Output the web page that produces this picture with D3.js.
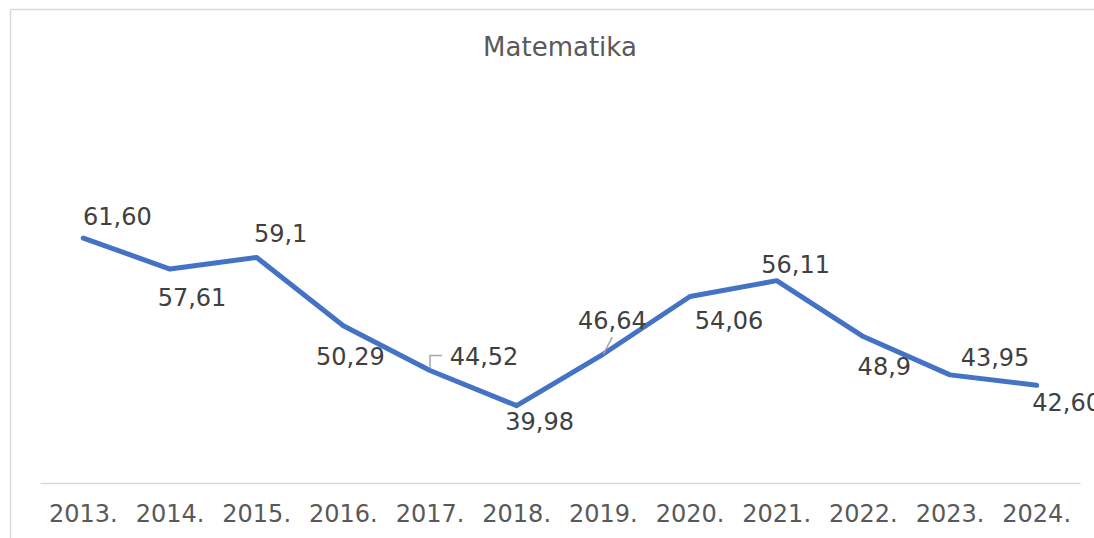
<!DOCTYPE html>
<html>
<head>
<meta charset="utf-8">
<script src="https://cdn.jsdelivr.net/npm/d3@7"></script>
<style>
  body { margin: 0; background: #fff; }
  text { font-family: "DejaVu Sans", Verdana, sans-serif; }
</style>
</head>
<body>
<svg id="chart"></svg>
<script>
// data
const years = ["2013.", "2014.", "2015.", "2016.", "2017.", "2018.", "2019.", "2020.", "2021.", "2022.", "2023.", "2024."];
const scores = [61.60, 57.61, 59.1, 50.29, 44.52, 39.98, 46.64, 54.06, 56.11, 48.9, 43.95, 42.60];
const scoreLabels = ["61,60", "57,61", "59,1", "50,29", "44,52", "39,98", "46,64", "54,06", "56,11", "48,9", "43,95", "42,60"];
const yDomain = [30, 70];

// label placement (offsets from point, like excel's manual label positions)
const labelOffsets = [[34, -22], [22, 28], [24, -24], [7, 31], [54, -14], [23, 16], [9, -34], [39, 24], [19, -16], [21, 30], [45, -18], [30, 17]];

const width = 1094, height = 538;
const margin = { top: 173, bottom: 55, left: 40, right: 14 };
const labelSize = 24;

const svg = d3.select("#chart").attr("width", width).attr("height", height);

// chart frame
svg.append("path")
  .attr("d", `M10.5,${height} V9.5 H${width}`)
  .attr("fill", "none")
  .attr("stroke", "#d9d9d9")
  .attr("stroke-width", 1.5);

const x = d3.scaleBand().domain(years).range([margin.left, width - margin.right]);
const y = d3.scaleLinear().domain(yDomain).range([height - margin.bottom, margin.top]);
const cx = (d) => x(d) + x.bandwidth() / 2;

// title
svg.append("text")
  .attr("x", 560)
  .attr("y", 56)
  .attr("text-anchor", "middle")
  .attr("font-size", 26)
  .attr("fill", "#595959")
  .text("Matematika");

// x axis
const xAxis = svg.append("g")
  .attr("transform", `translate(0, ${y(yDomain[0])})`)
  .call(d3.axisBottom(x).tickSize(0).tickPadding(22));
xAxis.select(".domain").attr("stroke", "#d9d9d9").attr("stroke-width", 1.5);
xAxis.selectAll(".tick text")
  .attr("font-family", "DejaVu Sans, Verdana, sans-serif")
  .attr("font-size", labelSize)
  .attr("fill", "#595959");

// line
const pts = years.map((d, i) => [cx(d), y(scores[i])]);
svg.append("path")
  .datum(pts)
  .attr("d", d3.line())
  .attr("fill", "none")
  .attr("stroke", "#4472C4")
  .attr("stroke-width", 5)
  .attr("stroke-linejoin", "round")
  .attr("stroke-linecap", "round");

// leader lines
const leader = d3.line();
const p17 = pts[4], p19 = pts[6];
svg.append("path")
  .attr("d", leader([[p17[0], p17[1] - 2], [p17[0], p17[1] - 15], [p17[0] + 12, p17[1] - 15]]))
  .attr("fill", "none").attr("stroke", "#a6a6a6").attr("stroke-width", 1.5);
svg.append("path")
  .attr("d", leader([[p19[0], p19[1]], [p19[0] + 9, p19[1] - 17]]))
  .attr("fill", "none").attr("stroke", "#a6a6a6").attr("stroke-width", 1.5);

// data labels
svg.append("g")
  .selectAll("text")
  .data(scoreLabels)
  .join("text")
  .attr("x", (d, i) => pts[i][0] + labelOffsets[i][0])
  .attr("y", (d, i) => pts[i][1] + labelOffsets[i][1])
  .attr("dy", "0.36em")
  .attr("text-anchor", "middle")
  .attr("font-size", labelSize)
  .attr("fill", "#404040")
  .text((d) => d);
</script>
</body>
</html>
